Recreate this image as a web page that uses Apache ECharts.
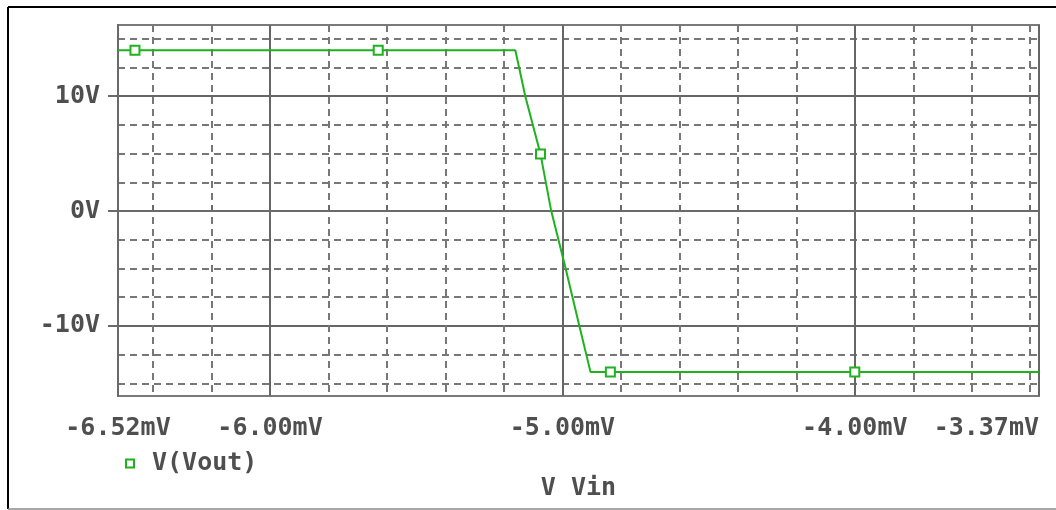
<!DOCTYPE html>
<html>
<head>
<meta charset="utf-8">
<script src="https://cdn.jsdelivr.net/npm/echarts@6/dist/echarts.min.js"></script>
<style>
html,body{margin:0;padding:0;background:#fff;}
#chart{width:1056px;height:510px;}
</style>
</head>
<body>
<div id="chart"></div>
<script>
// Curve: Vin (mV) vs V(Vout) (V)
var vinMv = [-6.52, -5.161, -5.127, -5.075, -5.039, -4.990, -4.942, -4.904, -3.37];
var voutV = [14.0, 14.0, 10.0, 4.96, 0.1, -4.9, -10.0, -14.0, -14.0];
// PSpice marker symbols
var markerVinMv = [-6.462, -5.630, -5.075, -4.836, -4.0];
var markerVoutV = [14.0, 14.0, 4.96, -14.0, -14.0];
// Axis ticks / grid
var xMajorTicks = [-6.52, -6.0, -5.0, -4.0, -3.37];
var xMinorGrid = [-6.4, -6.2, -5.8, -5.6, -5.4, -5.2, -4.8, -4.6, -4.4, -4.2, -3.8, -3.6, -3.4];
var yMajorTicks = [-10, 0, 10];
var yMinorGrid = [-15, -12.5, -7.5, -5, -2.5, 2.5, 5, 7.5, 12.5, 15];
var seriesName = 'V(Vout)';
var xTitle = 'V Vin';

var green = '#1fb21f';
var textColor = '#4f4f4f';
var font = "'DejaVu Sans Mono', monospace";
var fs = 25;

var chart = echarts.init(document.getElementById('chart'));
var xMin = -6.52, xMax = -3.37, yMin = -16.1, yMax = 16.2;

chart.setOption({
  animation: false,
  backgroundColor: '#fff',
  graphic: [
    {type: 'line', shape: {x1: 8, y1: 7, x2: 1056, y2: 7}, style: {stroke: '#000', lineWidth: 2}},
    {type: 'line', shape: {x1: 8, y1: 7, x2: 8, y2: 509}, style: {stroke: '#000', lineWidth: 2}},
    {type: 'line', shape: {x1: 8, y1: 509, x2: 1056, y2: 509}, style: {stroke: '#888', lineWidth: 1.5}}
  ],
  grid: {left: 118, right: 17, top: 25, bottom: 114, show: true, borderColor: '#7a7a7a', borderWidth: 2, backgroundColor: '#fff'},
  legend: {
    show: true,
    left: 120, top: 446,
    data: [{name: seriesName, icon: 'rect'}],
    itemWidth: 8, itemHeight: 8,
    itemStyle: {color: '#fff', borderColor: green, borderWidth: 2},
    textStyle: {fontFamily: font, fontSize: fs, fontWeight: 'bold', color: textColor, padding: [0, 0, 0, 13]}
  },
  xAxis: [
    {
      type: 'value', min: xMin, max: xMax,
      name: xTitle, nameLocation: 'middle', nameGap: 80,
      nameTextStyle: {fontFamily: font, fontSize: fs, fontWeight: 'bold', color: textColor},
      axisLine: {show: true, lineStyle: {color: '#6a6a6a', width: 2}},
      axisTick: {show: true, inside: false, length: 10, customValues: xMajorTicks, lineStyle: {color: '#6a6a6a', width: 2}},
      axisLabel: {
        customValues: xMajorTicks, margin: 20, alignMaxLabel: 'right',
        fontFamily: font, fontSize: fs, fontWeight: 'bold', color: textColor,
        formatter: function (v) { return v.toFixed(2) + 'mV'; }
      },
      splitLine: {show: true, lineStyle: {color: '#666', width: 2, type: 'solid'}}
    },
    {
      type: 'value', min: xMin, max: xMax, position: 'bottom',
      axisLine: {show: false},
      axisTick: {show: true, inside: true, length: 6, customValues: xMinorGrid, lineStyle: {color: '#6a6a6a', width: 2}},
      axisLabel: {show: false, customValues: xMinorGrid},
      splitLine: {show: true, lineStyle: {color: '#777', width: 2, type: [7, 5]}}
    }
  ],
  yAxis: [
    {
      type: 'value', min: yMin, max: yMax,
      axisLine: {show: true, lineStyle: {color: '#6a6a6a', width: 2}},
      axisTick: {show: true, length: 10, customValues: yMajorTicks, lineStyle: {color: '#6a6a6a', width: 2}},
      axisLabel: {
        customValues: yMajorTicks, margin: 18,
        fontFamily: font, fontSize: fs, fontWeight: 'bold', color: textColor,
        formatter: function (v) { return v + 'V'; }
      },
      splitLine: {show: true, lineStyle: {color: '#666', width: 2, type: 'solid'}}
    },
    {
      type: 'value', min: yMin, max: yMax, position: 'left',
      axisLine: {show: false},
      axisTick: {show: false, customValues: yMinorGrid},
      axisLabel: {show: false, customValues: yMinorGrid},
      splitLine: {show: true, lineStyle: {color: '#777', width: 2, type: [7, 5]}}
    }
  ],
  series: [
    {
      name: seriesName, type: 'line', xAxisIndex: 0, yAxisIndex: 0,
      data: vinMv.map(function (x, i) { return [x, voutV[i]]; }),
      showSymbol: false, symbol: 'none',
      lineStyle: {color: green, width: 2},
      itemStyle: {color: green},
      z: 5
    },
    {
      name: seriesName, type: 'line', xAxisIndex: 0, yAxisIndex: 0,
      data: markerVinMv.map(function (x, i) { return [x, markerVoutV[i]]; }),
      lineStyle: {width: 0, opacity: 0},
      symbol: 'rect', symbolSize: 9, showSymbol: true,
      itemStyle: {color: '#fff', borderColor: green, borderWidth: 2},
      z: 6
    }
  ]
});
</script>
</body>
</html>
